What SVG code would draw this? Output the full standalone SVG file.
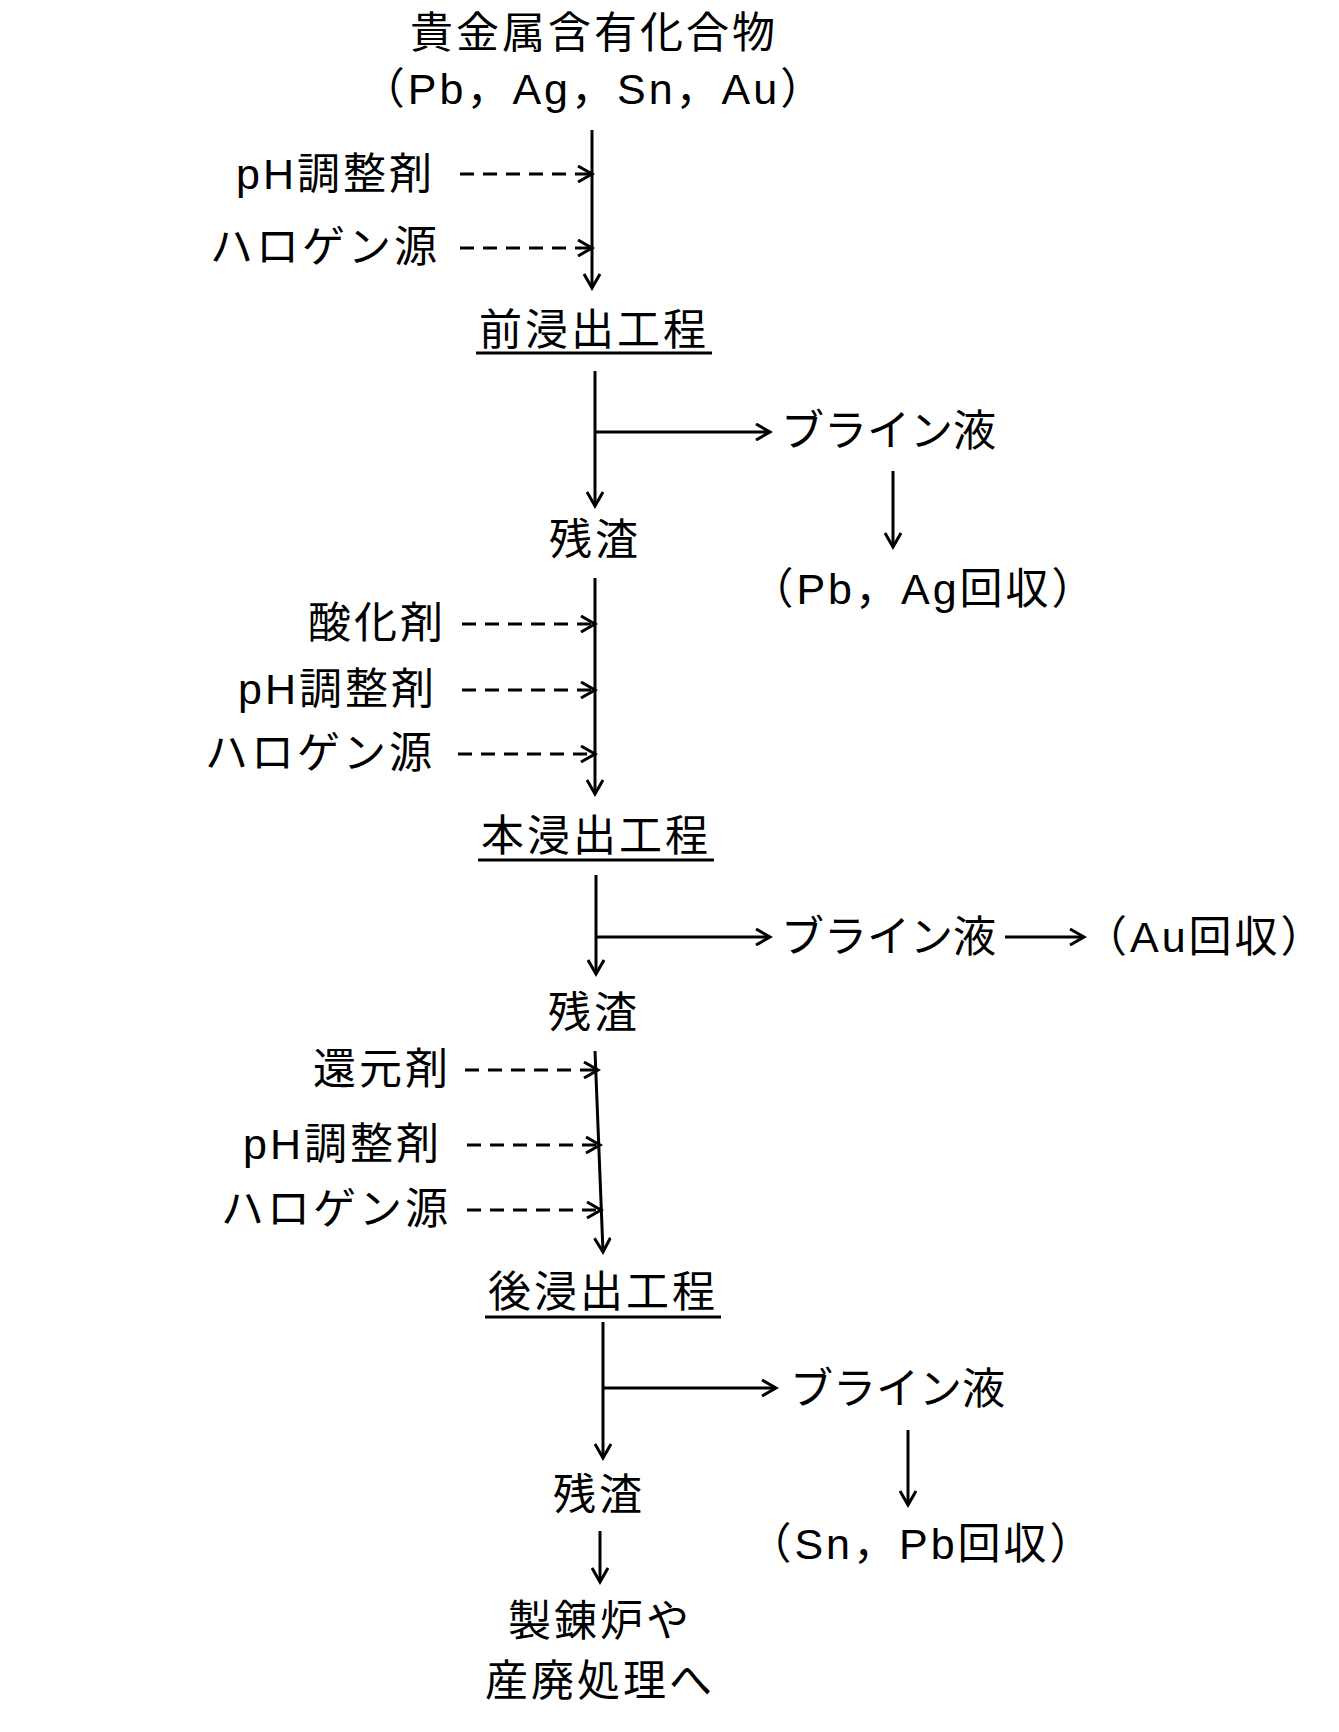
<svg xmlns="http://www.w3.org/2000/svg" width="1339" height="1732" viewBox="0 0 1339 1732">
<defs>
<marker id="ah" markerWidth="18" markerHeight="18" refX="15" refY="9" orient="auto" markerUnits="userSpaceOnUse"><path d="M1,1 L15,9 L1,17" fill="none" stroke="#000" stroke-width="3"/></marker>
</defs>
<style>
text{font-family:"Liberation Sans","Noto Sans CJK JP",sans-serif;font-size:43px;letter-spacing:3px;fill:#000}
.m{text-anchor:middle}.e{text-anchor:end}
.b{letter-spacing:0px}
.l{stroke:#000;stroke-width:3;fill:none}
.d{stroke:#000;stroke-width:3;fill:none;stroke-dasharray:14,9}
</style>
<rect width="1339" height="1732" fill="#fff"/>
<g id="connectors">
<line class="l" x1="592" y1="130" x2="592" y2="288" marker-end="url(#ah)"/>
<line class="d" x1="460" y1="174" x2="592" y2="174" marker-end="url(#ah)"/>
<line class="d" x1="460" y1="248" x2="592" y2="248" marker-end="url(#ah)"/>
<line class="l" x1="595" y1="371" x2="595" y2="506" marker-end="url(#ah)"/>
<line class="l" x1="595" y1="432" x2="770" y2="432" marker-end="url(#ah)"/>
<line class="l" x1="893" y1="471" x2="893" y2="547" marker-end="url(#ah)"/>
<line class="l" x1="595" y1="578" x2="595" y2="794" marker-end="url(#ah)"/>
<line class="d" x1="462" y1="624" x2="595" y2="624" marker-end="url(#ah)"/>
<line class="d" x1="462" y1="690" x2="595" y2="690" marker-end="url(#ah)"/>
<line class="d" x1="458" y1="754" x2="595" y2="754" marker-end="url(#ah)"/>
<line class="l" x1="596" y1="875" x2="596" y2="974" marker-end="url(#ah)"/>
<line class="l" x1="596" y1="937" x2="770" y2="937" marker-end="url(#ah)"/>
<line class="l" x1="1005" y1="937" x2="1084" y2="937" marker-end="url(#ah)"/>
<line class="l" x1="595" y1="1051" x2="603" y2="1252" marker-end="url(#ah)"/>
<line class="d" x1="465" y1="1070" x2="598" y2="1070" marker-end="url(#ah)"/>
<line class="d" x1="467" y1="1145" x2="600" y2="1145" marker-end="url(#ah)"/>
<line class="d" x1="467" y1="1210" x2="601" y2="1210" marker-end="url(#ah)"/>
<line class="l" x1="603" y1="1322" x2="603" y2="1458" marker-end="url(#ah)"/>
<line class="l" x1="603" y1="1388" x2="776" y2="1388" marker-end="url(#ah)"/>
<line class="l" x1="908" y1="1430" x2="908" y2="1505" marker-end="url(#ah)"/>
<line class="l" x1="600" y1="1531" x2="600" y2="1582" marker-end="url(#ah)"/>
</g>
<g id="n-start"><text class="m" x="594" y="48">貴金属含有化合物</text><text class="m" x="594" y="104">（Pb，Ag，Sn，Au）</text></g>
<g id="n-ph1"><text class="e" x="435" y="189">pH調整剤</text></g>
<g id="n-hal1"><text class="e" x="440" y="262">ハロゲン源</text></g>
<g id="n-pre"><text class="m" x="594" y="345">前浸出工程</text><line class="l" x1="476" y1="353" x2="712" y2="353"/></g>
<g id="n-brine1"><text class="b" x="781" y="446">ブライン液</text></g>
<g id="n-res1"><text class="m" x="595" y="555">残渣</text></g>
<g id="n-pbag"><text class="m" x="924" y="604">（Pb，Ag回収）</text></g>
<g id="n-ox"><text class="e" x="446" y="638">酸化剤</text></g>
<g id="n-ph2"><text class="e" x="437" y="704">pH調整剤</text></g>
<g id="n-hal2"><text class="e" x="435" y="768">ハロゲン源</text></g>
<g id="n-main"><text class="m" x="596" y="851">本浸出工程</text><line class="l" x1="478" y1="860" x2="714" y2="860"/></g>
<g id="n-brine2"><text class="b" x="781" y="952">ブライン液</text></g>
<g id="n-au"><text x="1084" y="952">（Au回収）</text></g>
<g id="n-res2"><text class="m" x="594" y="1028">残渣</text></g>
<g id="n-red"><text class="e" x="451" y="1084">還元剤</text></g>
<g id="n-ph3"><text class="e" x="442" y="1159">pH調整剤</text></g>
<g id="n-hal3"><text class="e" x="451" y="1224">ハロゲン源</text></g>
<g id="n-post"><text class="m" x="603" y="1307">後浸出工程</text><line class="l" x1="485" y1="1317" x2="721" y2="1317"/></g>
<g id="n-brine3"><text class="b" x="790" y="1404">ブライン液</text></g>
<g id="n-res3"><text class="m" x="599" y="1510">残渣</text></g>
<g id="n-snpb"><text class="m" x="922" y="1559">（Sn，Pb回収）</text></g>
<g id="n-end"><text class="m" x="600" y="1636">製錬炉や</text><text class="m" x="600" y="1696">産廃処理へ</text></g>
</svg>
